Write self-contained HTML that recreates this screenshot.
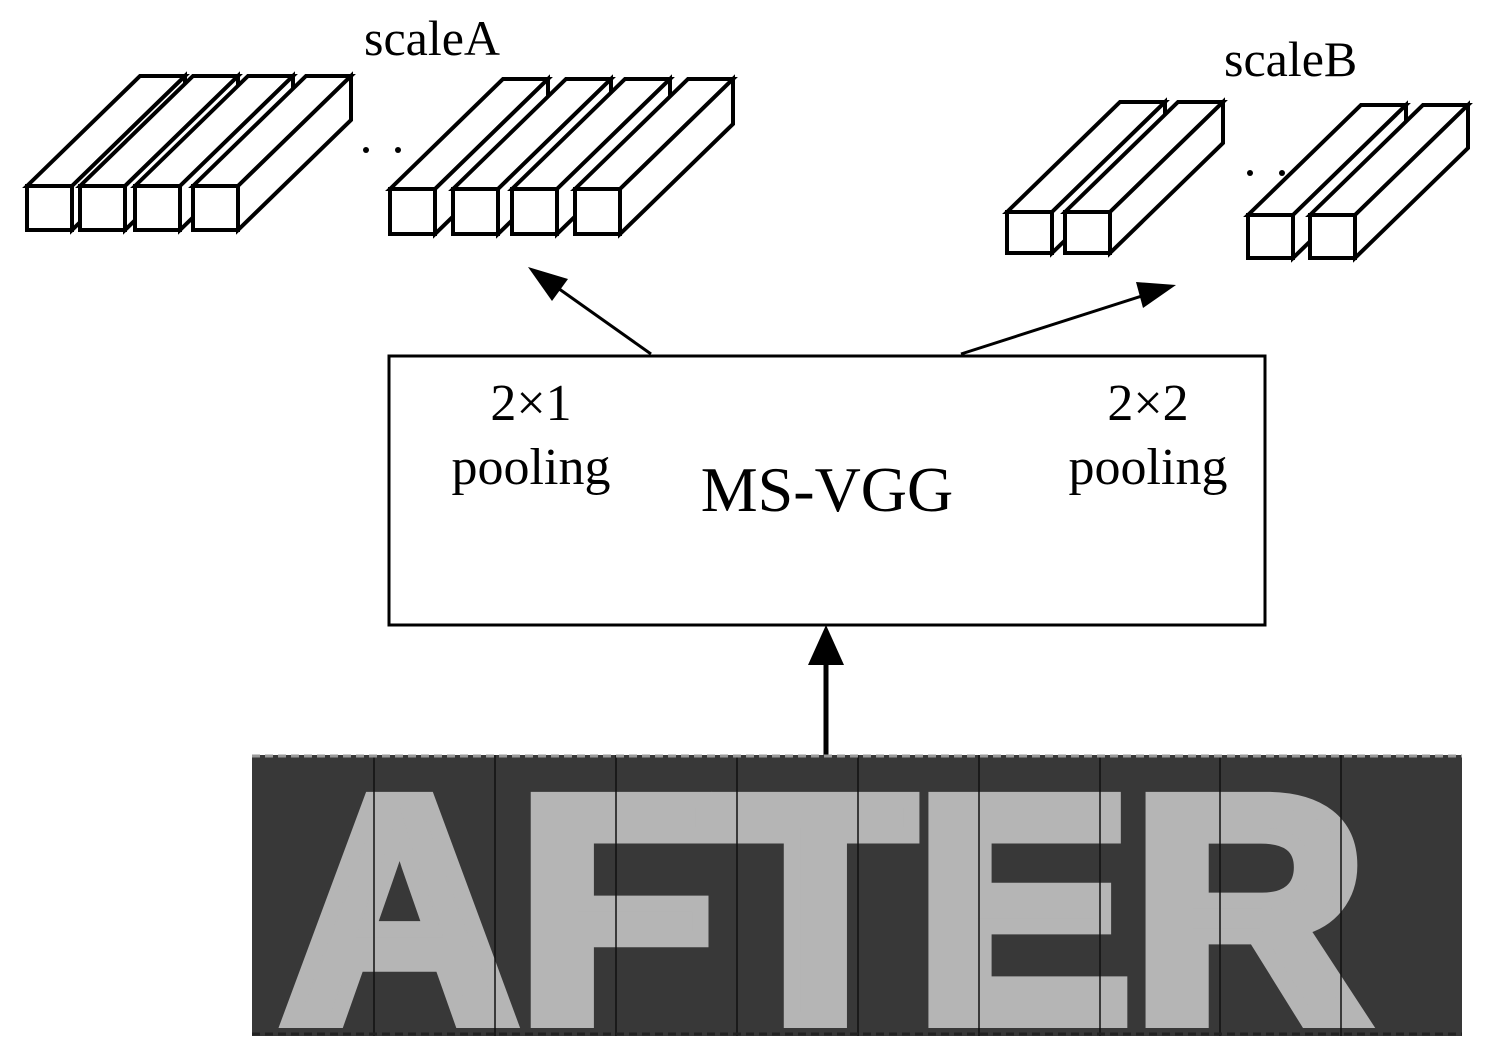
<!DOCTYPE html>
<html><head><meta charset="utf-8"><style>
html,body{margin:0;padding:0;background:#fff;}
svg{display:block}
.t{font-family:"Liberation Serif",serif;fill:#000}
.big{font-family:"Liberation Sans",sans-serif;font-weight:bold;fill:#b5b5b5;stroke:#b5b5b5;stroke-width:16;stroke-linejoin:miter}
</style></head><body>
<svg width="1491" height="1056" viewBox="0 0 1491 1056" xmlns="http://www.w3.org/2000/svg">
<g id="cubes" fill="#fff" stroke="#000" stroke-width="4" stroke-linejoin="miter"></g>
<g fill="#000">
<circle cx="366" cy="150" r="3"/><circle cx="398" cy="150" r="3"/>
<circle cx="1250" cy="173" r="3"/><circle cx="1282" cy="173" r="3"/>
</g>
<text class="t" x="364" y="55" font-size="50">scaleA</text>
<text class="t" x="1224" y="76" font-size="50">scaleB</text>
<rect x="389" y="356" width="876" height="269" fill="#fff" stroke="#000" stroke-width="3"/>
<text class="t" x="531" y="420" font-size="52" text-anchor="middle">2×1</text>
<text class="t" x="531" y="484" font-size="52" text-anchor="middle">pooling</text>
<text class="t" x="1148" y="420" font-size="52" text-anchor="middle">2×2</text>
<text class="t" x="1148" y="484" font-size="52" text-anchor="middle">pooling</text>
<text class="t" x="827" y="511" font-size="64" text-anchor="middle">MS-VGG</text>
<line x1="651" y1="354" x2="555" y2="286" stroke="#000" stroke-width="3"/>
<polygon points="528,267 568,279 552,301" fill="#000"/>
<line x1="961" y1="354" x2="1148" y2="294" stroke="#000" stroke-width="3"/>
<polygon points="1176,285 1143,308 1136,282" fill="#000"/>
<line x1="826" y1="758" x2="826" y2="660" stroke="#000" stroke-width="5"/>
<polygon points="826,625 808,665 844,665" fill="#000"/>
<rect x="252" y="755" width="1210" height="281" fill="#383838"/>
<text class="big" x="282" y="1020" font-size="320" textLength="1085" lengthAdjust="spacingAndGlyphs">AFTER</text>
<g stroke="#111" stroke-width="1.5">
<line x1="374" y1="755" x2="374" y2="1036"/><line x1="495" y1="755" x2="495" y2="1036"/>
<line x1="616" y1="755" x2="616" y2="1036"/><line x1="737" y1="755" x2="737" y2="1036"/>
<line x1="858" y1="755" x2="858" y2="1036"/><line x1="979" y1="755" x2="979" y2="1036"/>
<line x1="1100" y1="755" x2="1100" y2="1036"/><line x1="1220" y1="755" x2="1220" y2="1036"/>
<line x1="1341" y1="755" x2="1341" y2="1036"/>
</g>
<line x1="252" y1="756" x2="1462" y2="756" stroke="#999" stroke-width="3" stroke-dasharray="8,5"/>
<line x1="252" y1="1034" x2="1462" y2="1034" stroke="#222" stroke-width="3" stroke-dasharray="8,5"/>
</svg>
<script>
(function(){
var g=document.getElementById('cubes');
var dx=113,dy=-110;
var boxes=[[27,186,45,44],[80,186,45,44],[135,186,45,44],[193,186,45,44],
[390,189,45,45],[453,189,45,45],[512,189,45,45],[575,189,45,45],
[1007,212,45,41],[1065,212,45,41],[1248,215,45,43],[1310,215,45,43]];
var ns='http://www.w3.org/2000/svg';
boxes.forEach(function(b){
var x=b[0],y=b[1],w=b[2],h=b[3];
var p=[[[x,y],[x+dx,y+dy],[x+w+dx,y+dy],[x+w,y]],
[[x+w,y],[x+w+dx,y+dy],[x+w+dx,y+h+dy],[x+w,y+h]]];
p.forEach(function(pts){var e=document.createElementNS(ns,'polygon');
e.setAttribute('points',pts.map(function(q){return q.join(',')}).join(' '));g.appendChild(e);});
var r=document.createElementNS(ns,'rect');
r.setAttribute('x',x);r.setAttribute('y',y);r.setAttribute('width',w);r.setAttribute('height',h);g.appendChild(r);
});
})();
</script>
</body></html>
